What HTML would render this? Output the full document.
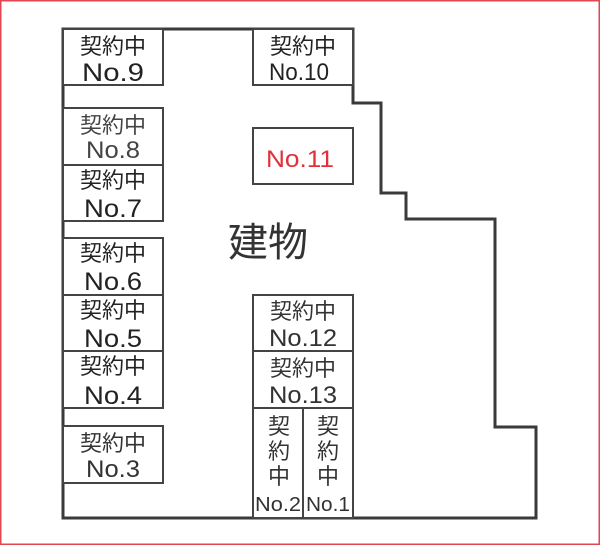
<!DOCTYPE html>
<html><head><meta charset="utf-8"><style>
html,body{margin:0;padding:0;background:#fff;}
svg{display:block;}
text{font-family:"Liberation Sans","Noto Sans CJK JP",sans-serif;}
</style></head><body>
<svg width="600" height="545" viewBox="0 0 600 545" xmlns="http://www.w3.org/2000/svg">
<rect x="0.75" y="0.75" width="598.5" height="543.5" fill="#fff" stroke="#e04550" stroke-width="1.5"/>
<polygon points="63,29 353,29 353,103 381,103 381,193 406,193 406,219 495,219 495,427 536,427 536,518 63,518" fill="#fff" stroke="#3a3a3a" stroke-width="3"/>
<g fill="#fff" stroke="#444" stroke-width="2">
<rect x="63" y="29" width="100" height="56"/>
<rect x="253" y="29" width="100" height="56"/>
<rect x="63" y="108" width="100" height="57"/>
<rect x="63" y="165" width="100" height="56"/>
<rect x="253" y="128" width="100" height="56"/>
<rect x="63" y="238" width="100" height="57"/>
<rect x="63" y="295" width="100" height="56"/>
<rect x="63" y="351" width="100" height="57"/>
<rect x="63" y="426" width="100" height="57"/>
<rect x="253" y="295" width="100" height="56"/>
<rect x="253" y="351" width="100" height="57"/>
<rect x="253" y="408" width="50" height="110"/>
<rect x="303" y="408" width="50" height="110"/>
</g>
<g fill="#222" font-size="22" text-anchor="middle">
<text x="113" y="54">契約中</text><text x="113" y="81" font-size="25" textLength="62" lengthAdjust="spacingAndGlyphs">No.9</text>
<text x="303" y="54">契約中</text><text x="299" y="80" font-size="24" textLength="60" lengthAdjust="spacingAndGlyphs">No.10</text>
<text x="113" y="133" fill="#444">契約中</text><text x="113" y="158" font-size="24" fill="#444" textLength="54" lengthAdjust="spacingAndGlyphs">No.8</text>
<text x="113" y="188">契約中</text><text x="113" y="217" font-size="25" textLength="58" lengthAdjust="spacingAndGlyphs">No.7</text>
<text x="300" y="167" font-size="24" fill="#e0303a" textLength="68" lengthAdjust="spacingAndGlyphs">No.11</text>
<text x="113" y="261">契約中</text><text x="113" y="290" font-size="25" textLength="58" lengthAdjust="spacingAndGlyphs">No.6</text>
<text x="113" y="318">契約中</text><text x="113" y="347" font-size="25" textLength="58" lengthAdjust="spacingAndGlyphs">No.5</text>
<text x="113" y="374">契約中</text><text x="113" y="404" font-size="25" textLength="58" lengthAdjust="spacingAndGlyphs">No.4</text>
<text x="113" y="451" fill="#333">契約中</text><text x="113" y="477" font-size="24" fill="#333" textLength="54" lengthAdjust="spacingAndGlyphs">No.3</text>
<text x="303" y="319" fill="#333">契約中</text><text x="303" y="346" font-size="24" fill="#333" textLength="68" lengthAdjust="spacingAndGlyphs">No.12</text>
<text x="303" y="376" fill="#333">契約中</text><text x="303" y="403" font-size="24" fill="#333" textLength="68" lengthAdjust="spacingAndGlyphs">No.13</text>
<text x="279" y="434" fill="#333">契</text><text x="279" y="459" fill="#333">約</text><text x="279" y="484" fill="#333">中</text>
<text x="328" y="434" fill="#333">契</text><text x="328" y="459" fill="#333">約</text><text x="328" y="484" fill="#333">中</text>
<text x="278" y="511" font-size="20" fill="#333" textLength="46" lengthAdjust="spacingAndGlyphs">No.2</text>
<text x="328" y="511" font-size="20" fill="#333" textLength="44" lengthAdjust="spacingAndGlyphs">No.1</text>
<text x="268" y="256" font-size="40" fill="#333">建物</text>
</g>
</svg>
</body></html>
